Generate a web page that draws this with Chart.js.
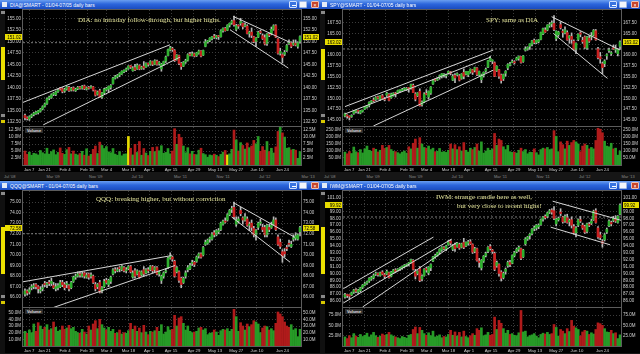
<!DOCTYPE html>
<html>
<head>
<meta charset="utf-8">
<title>DIA / SPY / QQQ / IWM daily bars</title>
<script src="https://cdn.jsdelivr.net/npm/chart.js"></script>
<style>
    html, body { margin: 0; padding: 0; background: #000; width: 640px; height: 354px; overflow: hidden;
                 font-family: "Liberation Sans", Arial, sans-serif; }
    .panel { position: absolute; width: 320px; height: 180px; background: #000; overflow: hidden; }
    .titlebar { position: absolute; left: 0; top: 0; width: 320px; height: 9px;
                background: linear-gradient(#6a9ff0, #2c66dc 45%, #1a4cc0); }
    .titlebar .ico { position: absolute; left: 2px; top: 1.5px; width: 5px; height: 5px; background: #e3ebf7; }
    .titlebar .ttl { position: absolute; left: 10px; top: 1.6px; font-size: 5px; line-height: 6px; color: #fff; white-space: nowrap; }
    .btn { position: absolute; top: 1px; width: 8px; height: 7px; border-radius: 1px; box-sizing: border-box; }
    .bmin { left: 289px; background: #3a74e0; border: 0.5px solid #cfe0ff; }
    .bmin::after { content: ""; position: absolute; left: 2px; bottom: 1.5px; width: 4px; height: 1px; background: #fff; }
    .bmax { left: 299px; background: #f4f6fb; border: 0.5px solid #9fb8e8; }
    .bcls { left: 311px; background: #c8462c; border: 0.5px solid #f0c0b0; color: #fff; font-size: 5px; line-height: 6px; text-align: center; }
    .leftbar { position: absolute; left: 0; top: 9px; width: 5px; height: 163px; background: #101010; }
    .thumb { position: absolute; left: 1px; width: 4px; background: #ece000; }
    .knob { position: absolute; left: 0.5px; width: 4px; height: 3px; background: #8a8a8a; }
    canvas { position: absolute; left: 0; }
    .voltag { position: absolute; left: 25px; top: 127.5px; height: 5px; padding: 0 2px; background: #2c2c2c;
              color: #e0e0e0; font-size: 4px; line-height: 5px; font-weight: bold; }
    .strip { position: absolute; left: 0; top: 172px; width: 320px; height: 8px; background: #161616; }
    .strip span { position: absolute; top: 1.5px; font-size: 4px; color: #8a8a8a; white-space: nowrap; }
    .note { position: absolute; font-family: "Liberation Serif", "DejaVu Serif", serif; font-size: 7px;
            line-height: 7px; color: #e6e69c; white-space: nowrap; }
</style>
</head>
<body>

<script>
    // date axis (126 daily bars, 01/04 - 07/05)
    const tickLabels = ['Jan 7', 'Jan 21', 'Feb 4', 'Feb 18', 'Mar 4', 'Mar 18', 'Apr 1', 'Apr 15', 'Apr 29', 'May 13', 'May 27', 'Jun 10', 'Jun 24'];
    const tickPos = [1.9, 8.8, 18.2, 28.2, 37.1, 47, 56.4, 66.4, 76.8, 86.4, 96, 105.4, 117];
    const stripLabels = ["Jul '08", "Mar '09", "Nov '09", "Jul '10", "Mar '11", "Nov '11", "Jul '12", "Mar '13"];

    // ---- DIA : [open, high, low, close]
    const diaBars = [
        [133.9,134.2,132.9,133.4],[133.3,133.6,132.9,133.2],[133.1,133.8,132.8,133.6],[133.7,134.2,133.4,134.0],[134.1,134.6,133.8,134.4],
        [134.3,134.8,134.1,134.6],[134.5,135.0,134.2,134.9],[134.8,135.4,134.6,135.2],[135.3,136.0,135.1,135.8],[135.9,136.6,135.7,136.4],
        [136.5,137.7,136.3,137.5],[137.6,138.1,137.3,137.9],[137.8,138.6,137.6,138.4],[138.5,138.9,138.2,138.6],[138.4,139.2,138.2,139.0],
        [139.1,139.6,138.9,139.4],[139.8,140.0,139.4,139.6],[139.7,139.9,138.8,139.1],[139.2,139.8,138.9,139.5],[139.6,140.3,139.4,140.1],
        [140.0,140.2,139.1,139.3],[139.4,140.0,139.2,139.8],[139.9,140.1,139.2,139.4],[139.3,139.8,139.1,139.6],[139.7,140.2,139.5,140.0],
        [140.1,140.2,139.6,139.8],[139.8,140.4,139.6,140.2],[140.3,140.5,139.5,139.7],[139.6,140.1,139.4,139.9],[140.0,140.2,139.6,139.8],
        [139.9,140.4,139.8,140.1],[140.1,140.2,139.2,139.4],[139.3,139.4,138.1,138.3],[138.5,139.2,138.3,139.0],[139.3,139.6,137.8,137.9],
        [137.9,138.9,137.6,138.8],[138.8,139.8,138.6,139.6],[139.5,140.0,139.3,139.8],[139.6,140.3,139.0,140.2],[140.0,140.6,139.6,140.4],
        [140.8,142.2,140.7,142.0],[142.0,142.6,141.8,142.3],[142.3,142.8,142.0,142.6],[142.7,143.2,142.3,143.0],[142.9,143.6,142.8,143.5],
        [143.4,143.8,143.2,143.7],[143.7,144.2,143.4,144.0],[144.1,144.7,143.9,144.6],[144.7,144.8,144.1,144.4],[143.6,144.5,143.5,144.2],
        [144.3,145.0,143.6,143.8],[144.0,145.1,143.9,144.8],[144.7,144.9,143.8,144.0],[144.1,144.6,143.9,144.4],[144.6,145.6,143.9,144.2],
        [144.4,145.3,144.3,145.2],[145.1,145.3,144.6,145.0],[145.0,145.8,144.8,145.6],[145.6,145.7,144.7,145.0],[145.0,146.0,144.9,145.8],
        [145.7,145.9,144.8,145.0],[145.1,145.6,144.8,145.4],[144.0,145.2,143.5,145.0],[145.0,145.7,144.7,145.6],[145.7,146.8,145.4,146.6],
        [146.9,148.3,146.8,148.2],[148.1,148.9,147.9,148.6],[148.4,148.7,147.8,148.2],[148.0,148.2,145.6,145.8],[146.0,147.1,145.9,147.0],
        [146.9,147.0,144.9,145.2],[145.2,145.4,143.9,144.5],[144.6,145.6,144.5,145.4],[145.5,146.1,145.2,145.8],[145.9,147.3,145.7,147.1],
        [147.2,147.6,146.8,147.0],[146.9,147.7,146.8,147.3],[147.3,147.4,146.6,146.8],[146.9,147.6,146.7,147.5],[147.4,148.1,147.2,147.9],
        [147.9,148.0,146.6,146.8],[147.0,148.1,146.9,148.0],[148.9,150.4,148.8,149.9],[149.9,150.2,149.6,150.1],[150.2,150.8,149.9,150.7],
        [150.6,151.1,150.3,151.0],[151.1,151.5,150.6,150.9],[150.8,151.3,150.5,151.2],[151.1,151.3,150.4,151.0],[151.0,152.5,150.9,152.3],
        [152.3,152.9,152.0,152.8],[152.8,153.0,152.2,152.3],[152.4,153.6,152.3,153.5],[153.5,154.0,153.1,153.9],[154.0,154.6,153.7,154.4],
        [154.5,155.5,153.3,153.6],[152.6,153.7,152.3,153.4],[153.4,153.6,152.8,153.3],[153.9,155.0,153.5,154.3],[153.9,154.0,152.7,153.2],
        [153.3,154.0,153.1,153.5],[153.3,153.6,151.6,151.7],[151.7,152.2,150.9,152.0],[152.0,152.9,150.8,151.3],[151.0,151.1,149.7,149.9],
        [150.0,150.8,148.9,150.7],[150.9,152.2,150.8,152.0],[152.0,152.4,151.6,151.9],[151.2,151.6,150.4,150.6],[150.8,151.4,149.2,149.4],
        [149.5,151.7,149.1,151.6],[151.4,151.8,151.0,151.3],[151.7,153.1,151.4,152.6],[152.6,153.6,152.4,153.4],[153.4,153.6,150.8,150.9],
        [150.5,150.6,147.2,147.4],[147.4,148.5,147.0,147.8],[147.1,147.3,145.3,146.5],[147.2,148.0,146.9,147.6],[148.0,149.3,147.8,149.1],
        [149.5,150.3,149.3,149.8],[149.7,149.9,148.6,148.9],[149.3,150.3,149.1,149.6],[149.6,150.3,149.0,149.2],[148.9,149.9,148.5,149.7],
        [150.0,151.2,149.6,151.02]
    ];
    const diaVol = [
        5.0, 3.8, 4.6, 3.5, 4.2, 4.0, 3.6, 5.2, 4.4, 4.0,
        6.0, 3.9, 4.8, 5.4, 3.7, 4.5, 6.1, 4.2, 3.8, 5.5,
        6.3, 4.0, 5.0, 3.9, 3.6, 4.1, 4.9, 3.5, 5.8, 3.2,
        3.8, 5.6, 6.8, 4.1, 8.2, 7.0, 5.9, 6.6, 4.7, 4.4,
        5.9, 3.9, 3.5, 4.8, 3.3, 3.9, 4.0, 10.2, 6.0, 3.6,
        7.4, 4.5, 8.4, 3.5, 5.9, 4.3, 3.4, 4.9, 6.3, 4.8,
        6.5, 5.1, 6.9, 4.2, 4.5, 5.9, 4.0, 5.0, 13.0, 7.4,
        11.0, 9.8, 6.8, 4.4, 6.2, 4.0, 4.9, 3.8, 3.7, 5.3,
        6.0, 4.1, 3.7, 2.8, 3.6, 3.4, 3.9, 3.5, 3.0, 3.8,
        4.6, 5.2, 3.6, 4.0, 5.6, 12.5, 9.0, 5.0, 8.0, 7.0,
        5.7, 7.9, 6.2, 6.8, 8.8, 7.6, 10.2, 4.9, 6.6, 5.3,
        8.4, 4.8, 6.0, 4.3, 6.5, 12.0, 13.5, 11.5, 10.0, 6.0,
        6.2, 5.4, 5.6, 5.3, 2.4, 4.8
    ];
    const diaYellow = [47, 92];
    const diaPriceTicks = [132.5, 135, 137.5, 140, 142.5, 145, 147.5, 150, 152.5, 155];
    const diaVolTicks = [2.5, 5, 7.5, 10, 12.5];
    const diaLines = [[-1.06, 136.7, 65.9, 149.24], [8.3, 131.85, 70.45, 146.56], [94.7, 155.4, 120.5, 149.75], [93.2, 152.5, 119.7, 144.17]];

    // ---- SPY
    const spyBars = [
        [145.9,146.6,145.7,146.4],[146.1,146.2,145.4,145.9],[145.7,145.9,145.0,145.6],[145.8,146.2,145.6,145.9],[146.5,147.2,146.3,147.1],
        [147.0,147.2,146.6,147.1],[147.1,147.2,146.5,147.0],[146.6,147.2,146.4,147.1],[147.0,147.3,146.8,147.0],[147.5,148.1,147.4,148.0],
        [148.0,148.4,147.7,148.3],[148.4,149.2,148.0,149.1],[149.1,149.5,148.9,149.4],[149.6,150.1,149.2,149.4],[149.7,150.4,149.5,150.2],
        [150.3,150.5,149.8,150.0],[149.8,150.6,149.5,150.6],[150.6,150.9,149.9,150.0],[149.9,150.2,149.4,149.7],[150.7,151.4,150.4,151.2],
        [150.9,151.1,149.4,149.5],[150.1,151.2,150.0,151.0],[150.6,151.3,150.5,151.2],[151.2,151.4,150.3,151.0],[151.3,151.9,151.2,151.8],
        [151.8,151.9,151.4,151.8],[151.7,152.3,151.6,152.0],[152.1,152.5,151.9,152.2],[152.0,152.5,151.8,152.3],[152.5,152.5,151.4,152.1],
        [152.3,153.3,152.1,153.2],[153.0,153.3,151.3,151.3],[151.0,151.3,149.4,149.8],[150.6,151.3,150.4,151.2],[151.6,152.2,148.2,148.3],
        [148.6,149.4,148.2,149.1],[149.2,151.3,149.0,151.0],[151.0,152.0,150.8,150.9],[150.3,151.7,149.8,151.6],[151.2,152.7,150.9,152.6],
        [153.3,154.3,153.2,154.1],[154.3,154.5,153.9,154.2],[154.2,154.8,154.1,154.5],[154.9,155.4,154.4,155.2],[155.0,155.7,154.7,155.7],
        [155.3,155.7,154.9,155.3],[155.2,155.6,154.7,155.5],[155.8,156.3,155.6,156.2],[156.1,156.2,155.4,155.8],[154.2,155.5,154.1,155.1],
        [155.3,155.7,153.6,154.7],[155.4,155.9,155.2,155.7],[155.2,155.5,154.0,154.2],[154.6,155.7,154.4,155.6],[156.0,156.8,154.5,155.1],
        [155.6,156.2,155.4,156.2],[155.4,156.2,155.0,156.2],[156.1,156.8,155.8,156.7],[156.6,156.7,155.5,156.0],[156.5,157.2,156.1,157.1],
        [157.0,157.1,155.2,155.5],[155.4,156.3,155.2,156.2],[154.3,155.6,153.6,155.4],[155.3,156.1,154.9,156.0],[156.3,157.0,156.0,156.7],
        [157.2,158.8,157.1,158.7],[158.7,159.7,158.5,159.2],[158.6,158.9,158.0,158.8],[158.2,158.4,155.0,155.1],[156.4,157.5,156.2,157.4],
        [156.6,156.7,154.6,155.1],[155.4,155.6,153.5,154.1],[154.5,155.6,154.1,155.5],[155.8,156.4,155.1,156.2],[157.0,158.0,156.6,157.8],
        [157.7,158.3,157.5,157.9],[158.3,158.9,158.2,158.5],[158.4,158.7,157.9,158.2],[158.9,159.5,158.8,159.3],[159.2,159.8,158.8,159.7],
        [159.6,159.7,158.1,158.3],[158.5,159.9,158.3,159.8],[161.1,161.9,160.9,161.4],[161.3,161.9,161.1,161.8],[162.0,162.6,161.3,162.6],
        [162.5,163.4,162.1,163.3],[163.4,163.7,162.6,162.9],[162.9,163.5,162.6,163.4],[163.1,163.6,162.8,163.5],[163.6,165.3,163.5,165.2],
        [164.9,166.2,164.7,166.1],[165.8,166.3,165.2,165.3],[165.8,167.0,165.6,166.9],[166.8,167.5,166.4,166.9],[167.2,167.9,166.5,167.2],
        [167.3,169.1,165.6,165.9],[163.8,165.6,163.3,165.5],[164.7,165.5,164.3,165.3],[167.0,167.7,166.0,166.3],[165.5,165.9,164.1,165.2],
        [165.1,166.5,164.9,165.8],[165.2,165.6,163.4,163.5],[163.9,164.5,162.7,164.4],[164.3,165.1,162.7,163.6],[163.2,163.5,161.1,161.3],
        [161.3,162.8,160.3,162.7],[163.6,164.9,163.3,164.8],[165.1,165.4,164.2,164.8],[163.4,164.1,162.7,163.1],[164.2,164.4,161.5,161.8],
        [161.6,164.3,161.3,164.2],[163.9,164.5,162.9,163.2],[164.2,165.2,163.5,164.4],[164.6,165.9,164.4,165.7],[165.6,165.9,163.4,163.5],
        [161.4,161.8,159.1,159.4],[159.6,160.6,158.1,159.1],[158.0,158.3,155.7,157.1],[158.0,158.9,157.3,158.6],[159.8,160.3,159.0,160.1],
        [161.0,161.6,160.6,161.1],[160.3,160.8,159.9,160.4],[161.6,162.3,161.3,161.4],[161.2,162.3,160.6,161.2],[160.3,161.5,159.8,161.3],
        [162.0,163.3,161.3,163.02]
    ];
    const spyVol = [
        92, 80, 96, 82, 128, 95, 88, 110, 86, 115,
        135, 105, 98, 120, 112, 93, 105, 140, 118, 125,
        140, 110, 98, 95, 88, 80, 92, 100, 85, 130,
        115, 155, 185, 120, 195, 150, 125, 120, 135, 110,
        120, 95, 98, 118, 92, 96, 90, 105, 150, 115,
        145, 110, 130, 100, 160, 105, 92, 120, 110, 125,
        150, 100, 165, 85, 100, 120, 105, 115, 225, 140,
        185, 175, 130, 110, 140, 95, 90, 92, 85, 105,
        120, 96, 110, 80, 92, 90, 115, 88, 72, 110,
        120, 115, 125, 110, 115, 245, 205, 95, 165, 145,
        115, 170, 140, 160, 175, 165, 150, 95, 135, 150,
        140, 115, 125, 115, 175, 262, 255, 230, 170, 135,
        130, 155, 115, 120, 70, 100
    ];
    const spyPriceTicks = [145, 147.5, 150, 152.5, 155, 157.5, 160, 162.5, 165, 167.5];
    const spyVolTicks = [50, 100, 150, 200, 250];
    const spyLines = [[0, 148.08, 67.4, 161.15], [0, 146.38, 65.9, 159.46], [12.9, 143.6, 67.4, 156.5], [93.9, 168.85, 125, 161.15], [94.7, 165.0, 119.3, 154.6]];

    // ---- QQQ
    const qqqBars = [
        [66.3,66.8,66.1,66.6],[66.6,66.7,66.2,66.4],[66.5,66.9,66.3,66.7],[66.9,67.2,66.7,66.9],[67.0,67.3,66.8,67.1],
        [67.2,67.3,66.8,67.0],[67.0,67.1,66.4,66.8],[66.6,67.0,66.4,66.7],[66.8,67.2,66.6,66.9],[67.3,67.5,67.0,67.2],
        [67.2,67.4,66.9,67.3],[67.4,67.6,67.1,67.3],[67.3,67.8,67.1,67.5],[67.1,67.4,66.8,66.9],[66.8,67.3,66.6,67.0],
        [66.9,67.3,66.7,67.1],[67.0,67.6,66.9,67.4],[67.4,67.6,67.0,67.2],[67.2,67.4,66.7,66.9],[67.2,67.5,66.9,67.3],
        [67.1,67.2,66.6,66.8],[66.9,67.5,66.8,67.4],[67.5,68.0,67.4,67.9],[67.9,68.2,67.7,68.0],[68.0,68.4,67.9,68.2],
        [68.2,68.4,67.9,68.1],[68.0,68.4,67.9,68.2],[68.3,68.4,67.8,68.0],[67.9,68.3,67.8,68.1],[68.2,68.3,67.7,67.9],
        [68.0,68.3,67.8,68.1],[68.0,68.1,67.3,67.4],[67.2,67.4,66.6,66.8],[67.0,67.3,66.8,67.2],[67.4,67.6,66.4,66.5],
        [66.6,67.0,66.4,66.9],[67.0,67.7,66.9,67.5],[67.6,67.8,67.3,67.4],[67.2,67.7,67.0,67.6],[67.5,68.0,67.3,67.9],
        [68.2,68.7,68.1,68.6],[68.6,68.8,68.3,68.5],[68.5,68.8,68.4,68.6],[68.8,68.9,68.4,68.7],[68.6,69.0,68.5,68.9],
        [68.8,68.9,68.4,68.5],[68.5,68.8,68.3,68.6],[68.7,69.0,68.6,68.9],[68.9,69.0,68.3,68.4],[67.9,68.5,67.8,68.3],
        [68.5,68.7,67.8,68.0],[68.2,68.6,68.1,68.5],[68.4,68.5,67.8,67.9],[68.1,68.5,68.0,68.4],[68.6,68.9,68.0,68.2],
        [68.3,68.7,68.2,68.6],[68.6,68.8,68.3,68.5],[68.6,69.0,68.5,68.9],[68.9,69.0,68.3,68.5],[68.6,68.9,68.4,68.8],
        [68.8,68.9,68.1,68.2],[68.2,68.5,68.0,68.4],[67.6,68.1,67.3,68.0],[68.0,68.4,67.8,68.3],[68.4,68.7,68.3,68.5],
        [68.8,69.8,68.7,69.7],[69.7,70.2,69.6,69.9],[69.8,69.9,69.4,69.6],[69.4,69.5,67.9,68.0],[68.4,68.9,68.3,68.8],
        [68.4,68.5,67.4,67.6],[67.8,67.9,66.9,67.2],[67.4,67.9,67.3,67.8],[68.0,68.5,67.8,68.3],[68.6,69.0,68.4,68.8],
        [68.7,69.2,68.6,69.0],[69.2,69.5,69.0,69.3],[69.3,69.4,68.9,69.1],[69.4,69.9,69.3,69.8],[69.9,70.2,69.7,70.1],
        [70.1,70.2,69.7,69.8],[70.0,70.8,69.9,70.7],[71.0,71.4,70.9,71.2],[71.1,71.5,71.0,71.4],[71.5,71.7,71.2,71.6],
        [71.5,72.1,71.4,72.0],[72.1,72.3,71.7,71.9],[71.9,72.4,71.8,72.3],[72.2,72.5,72.0,72.3],[72.4,73.1,72.3,73.0],
        [72.9,73.3,72.8,73.2],[73.2,73.5,73.0,73.1],[73.3,73.9,73.2,73.8],[73.8,74.3,73.7,74.2],[74.3,74.6,74.0,74.4],
        [74.5,75.0,73.4,73.6],[72.9,73.6,72.7,73.3],[73.2,73.6,73.0,73.4],[74.2,74.5,73.7,73.9],[73.5,73.6,72.9,73.3],
        [73.3,73.9,73.2,73.6],[73.4,73.6,72.7,72.8],[72.8,73.1,72.3,72.9],[73.0,73.3,72.3,72.6],[72.5,72.7,71.7,71.9],
        [71.9,72.4,71.4,72.3],[72.6,73.1,72.4,73.0],[73.0,73.4,72.8,73.1],[72.6,72.9,72.2,72.4],[72.6,72.8,71.7,71.9],
        [71.9,72.9,71.7,72.8],[72.6,72.9,72.2,72.4],[72.6,73.1,72.5,72.8],[72.9,73.6,72.8,73.3],[73.3,73.5,72.3,72.4],
        [71.7,71.9,70.9,71.0],[71.2,71.5,70.6,70.8],[70.3,70.5,69.3,69.9],[70.3,70.6,69.8,70.1],[70.7,70.9,70.4,70.6],
        [71.1,71.4,70.8,71.0],[70.8,71.3,70.7,71.0],[71.5,71.9,71.3,71.6],[71.6,72.1,71.4,71.8],[71.5,72.0,71.4,71.9],
        [72.2,72.7,71.8,72.58]
    ];
    const qqqVol = [
        22, 19, 24, 20, 33, 22, 35, 30, 25, 28,
        32, 24, 26, 36, 28, 22, 24, 30, 25, 27,
        31, 26, 28, 22, 20, 19, 25, 21, 18, 30,
        24, 33, 38, 26, 40, 32, 27, 24, 28, 22,
        25, 19, 20, 24, 18, 20, 19, 23, 34, 25,
        30, 22, 27, 20, 31, 21, 17, 22, 21, 23,
        28, 22, 32, 18, 21, 29, 24, 25, 46, 30,
        42, 44, 34, 24, 30, 22, 20, 21, 22, 27,
        28, 24, 26, 17, 19, 20, 24, 21, 16, 23,
        25, 24, 26, 22, 25, 55, 44, 22, 35, 30,
        24, 33, 29, 32, 38, 36, 33, 20, 27, 30,
        29, 24, 26, 23, 34, 51, 48, 44, 36, 30,
        28, 32, 24, 26, 14, 25
    ];
    const qqqPriceTicks = [66, 67, 68, 69, 70, 71, 72, 73, 74, 75];
    const qqqVolTicks = [10, 20, 30, 40, 50];
    const qqqLines = [[-1.5, 67.44, 66.7, 69.94], [12.9, 65.03, 68.2, 69.0], [94.7, 74.94, 122.7, 71.66], [93.9, 73.59, 120.5, 69.31]];

    // ---- IWM
    const iwmBars = [
        [86.6,87.1,86.4,86.9],[86.9,87.0,86.5,86.8],[86.9,86.9,86.3,86.7],[86.9,87.3,86.8,87.2],[87.3,87.7,87.1,87.6],
        [87.6,87.8,87.2,87.4],[87.3,87.7,87.1,87.6],[87.5,88.0,87.3,87.9],[88.0,88.4,87.8,88.3],[88.3,88.7,88.2,88.5],
        [88.6,88.9,88.4,88.8],[88.9,89.4,88.7,89.3],[89.2,89.6,89.0,89.4],[89.4,89.9,89.2,89.7],[89.9,90.2,89.7,90.0],
        [90.0,90.1,89.6,89.8],[89.7,90.2,89.6,90.1],[90.2,90.4,89.8,89.9],[89.8,90.0,89.3,89.6],[89.9,90.5,89.8,90.3],
        [90.1,90.2,89.3,89.4],[89.6,90.3,89.5,90.2],[90.1,90.6,90.0,90.5],[90.5,90.7,90.1,90.3],[90.4,90.7,90.3,90.6],
        [90.6,90.9,90.4,90.8],[90.8,91.1,90.6,91.0],[91.0,91.3,90.8,91.2],[91.1,91.4,91.0,91.3],[91.4,91.6,91.1,91.5],
        [91.6,92.1,91.5,92.0],[91.9,92.0,90.5,90.6],[90.3,90.6,89.2,89.6],[90.0,90.4,89.8,90.3],[90.7,91.0,88.8,89.0],
        [89.2,89.8,88.9,89.6],[89.7,90.7,89.6,90.6],[90.7,90.9,90.2,90.5],[90.1,91.0,89.8,90.9],[90.8,91.4,90.4,91.3],
        [91.8,92.5,91.7,92.4],[92.4,92.8,92.2,92.6],[92.6,93.1,92.5,93.0],[93.1,93.6,92.8,93.5],[93.4,93.9,93.2,93.8],
        [93.7,93.9,93.4,93.6],[93.5,94.1,93.3,94.0],[94.2,94.8,94.1,94.6],[94.7,94.9,94.1,94.4],[93.5,94.2,93.3,94.0],
        [94.1,94.4,93.2,93.6],[93.9,94.5,93.8,94.4],[94.2,94.4,93.5,93.7],[93.8,94.4,93.7,94.3],[94.5,95.1,93.6,93.8],
        [94.0,94.6,93.9,94.5],[94.4,94.8,94.1,94.6],[94.6,94.9,94.2,94.3],[94.2,94.3,92.9,93.1],[93.2,93.8,93.0,93.6],
        [93.6,93.7,91.8,91.9],[91.8,92.2,90.9,91.6],[90.8,92.0,90.5,91.9],[91.8,92.6,91.6,92.5],[92.6,93.1,92.4,92.9],
        [93.2,93.9,93.0,93.8],[93.9,94.2,93.4,93.6],[93.4,93.5,92.9,93.2],[92.9,93.1,90.4,90.6],[91.1,91.8,90.9,91.6],
        [91.3,91.4,89.6,90.0],[90.2,90.4,88.9,89.3],[89.4,90.2,89.2,90.0],[90.3,90.8,89.9,90.6],[91.1,91.8,90.9,91.6],
        [91.6,91.9,91.0,91.3],[91.5,92.7,91.4,92.6],[92.6,93.2,92.4,93.0],[93.2,93.7,93.0,93.5],[93.5,94.0,93.2,93.8],
        [93.6,93.7,92.0,92.2],[92.4,93.5,92.3,93.4],[94.3,95.2,94.1,95.0],[95.0,95.4,94.8,95.3],[95.5,95.8,95.0,95.7],
        [95.8,96.5,95.6,96.4],[96.5,96.9,96.2,96.6],[96.6,97.1,96.3,97.0],[96.8,97.2,96.5,97.0],[97.1,97.9,97.0,97.8],
        [97.9,98.3,97.6,98.2],[98.3,98.5,97.9,98.1],[98.3,98.9,98.1,98.8],[98.9,99.3,98.7,99.1],[99.2,99.4,98.6,98.9],
        [99.1,99.7,97.8,98.0],[97.2,98.0,96.9,97.9],[97.8,98.2,97.6,98.0],[98.9,99.4,98.4,98.7],[98.2,98.3,97.3,97.5],
        [97.6,98.5,97.4,98.3],[98.1,98.6,97.3,97.4],[97.5,97.9,96.9,97.7],[97.8,98.2,96.6,97.0],[96.8,97.1,95.7,95.9],
        [95.9,96.8,95.3,96.6],[97.0,97.9,96.8,97.8],[97.8,98.3,97.4,97.6],[97.0,97.3,96.4,96.6],[96.8,97.0,95.8,96.0],
        [96.1,97.3,95.9,97.2],[97.1,97.4,96.8,97.0],[97.3,97.9,97.1,97.6],[97.8,99.2,97.7,99.0],[99.1,99.4,97.3,97.4],
        [96.6,96.8,95.1,95.3],[95.6,96.0,94.9,95.2],[94.6,94.9,93.8,94.4],[94.9,95.8,94.7,95.6],[96.0,96.6,95.8,96.4],
        [96.9,97.8,96.8,97.6],[97.4,97.6,96.9,97.2],[97.7,98.3,97.5,98.0],[97.9,98.4,97.4,97.6],[97.4,98.4,97.3,98.3],
        [98.6,100.1,98.5,99.92]
    ];
    const iwmVol = [
        22, 18, 25, 20, 30, 24, 21, 28, 23, 26,
        31, 22, 27, 33, 25, 21, 24, 29, 26, 28,
        33, 27, 24, 22, 20, 18, 23, 21, 19, 26,
        28, 40, 46, 30, 45, 38, 30, 26, 32, 25,
        36, 22, 24, 27, 20, 23, 22, 28, 38, 26,
        34, 24, 33, 22, 36, 23, 20, 25, 30, 26,
        42, 38, 44, 25, 27, 33, 26, 28, 70, 40,
        62, 55, 42, 31, 38, 28, 30, 26, 25, 32,
        86, 34, 36, 22, 25, 27, 30, 24, 20, 28,
        31, 29, 33, 28, 30, 52, 45, 24, 40, 36,
        30, 42, 35, 62, 48, 44, 40, 24, 34, 38,
        36, 28, 32, 29, 40, 56, 54, 50, 42, 34,
        33, 38, 30, 32, 18, 27
    ];
    const iwmPriceTicks = [86, 87, 88, 89, 90, 91, 92, 93, 94, 95, 96, 97, 98, 99, 100, 101];
    const iwmVolTicks = [25, 50, 75];
    const iwmLines = [[-0.76, 87.79, 40.2, 95.28], [-0.76, 85.71, 48.5, 94.99], [8.0, 85.13, 50.8, 94.5], [94.4, 100.49, 125.8, 97.69], [93.5, 96.72, 120.5, 94.16]];

    // dashed reference levels drawn across each price pane
    const refLevels = [149.7, 161.4, 72.0, 98.2];

    const UP = '#2fb12f', DOWN = '#c92020', WICK = '#b8b8b8', YEL = '#e8dc00';
    const VOL_UP = '#279b27', VOL_DOWN = '#b01b1b';
    const X_MIN = -0.9, X_MAX = 125.45;

    const panels = [
        { sym: 'DIA', left: 0, top: 0, bars: diaBars, vol: diaVol, yellow: diaYellow, pTicks: diaPriceTicks, vTicks: diaVolTicks,
          pMin: 131.6, pMax: 156.8, vMax: 13.6, lines: diaLines, ref: refLevels[0], thumb: [38, 33],
          notes: [['DIA: no intraday follow-through, but higher highs.', 78, 16.5]] },
        { sym: 'SPY', left: 320, top: 0, bars: spyBars, vol: spyVol, yellow: [], pTicks: spyPriceTicks, vTicks: spyVolTicks,
          pMin: 143.6, pMax: 170.4, vMax: 271, lines: spyLines, ref: refLevels[1], thumb: [40, 31],
          notes: [['SPY: same as DIA', 166, 16.5]] },
        { sym: 'QQQ', left: 0, top: 181, bars: qqqBars, vol: qqqVol, yellow: [], pTicks: qqqPriceTicks, vTicks: qqqVolTicks,
          pMin: 65.08, pMax: 76.04, vMax: 57, lines: qqqLines, ref: refLevels[2], thumb: [37, 47],
          notes: [['QQQ: breaking higher, but without conviction', 96, 15.2]] },
        { sym: 'IWM', left: 320, top: 181, bars: iwmBars, vol: iwmVol, yellow: [], pTicks: iwmPriceTicks, vTicks: iwmVolTicks,
          pMin: 85.13, pMax: 101.97, vMax: 92, lines: iwmLines, ref: refLevels[3], thumb: [37, 47],
          notes: [['IWM: strange candle here as well,', 116, 13.2], ['but very close to recent highs!', 137, 21.8]] }
    ];

    Chart.defaults.font.family = '"Liberation Sans", Arial, sans-serif';
    Chart.defaults.color = '#d2d2d2';

    // frame around the plot area
    const framePlugin = {
        id: 'frame',
        afterDraw(chart) {
            const a = chart.chartArea, ctx = chart.ctx;
            ctx.save();
            ctx.strokeStyle = '#5c5c5c';
            ctx.lineWidth = 1;
            ctx.strokeRect(Math.round(a.left) - 0.5, Math.round(a.top) - 0.5, Math.round(a.right - a.left) + 1, Math.round(a.bottom - a.top) + 1);
            ctx.restore();
        }
    };

    // yellow last-price tag on both price axes
    const lastPricePlugin = {
        id: 'lastPrice',
        afterDraw(chart, args, opts) {
            if (!opts || opts.value == null) return;
            const ctx = chart.ctx, a = chart.chartArea;
            const y = Math.round(chart.scales.y.getPixelForValue(opts.value));
            const txt = opts.value.toFixed(2);
            ctx.save();
            ctx.font = '4.5px "Liberation Sans"';
            ctx.textBaseline = 'middle';
            ctx.fillStyle = YEL;
            ctx.fillRect(a.right + 2, y - 3, 16, 6);
            ctx.fillRect(5, y - 3, 17, 6);
            ctx.fillStyle = '#000';
            ctx.textAlign = 'left';
            ctx.fillText(txt, a.right + 3, y + 0.3);
            ctx.textAlign = 'right';
            ctx.fillText(txt, a.left - 2, y + 0.3);
            ctx.restore();
        }
    };

    function fixWidth(w) {
        return s => { s.width = w; s.paddingTop = 0; s.paddingBottom = 0; s.paddingLeft = 0; s.paddingRight = 0; };
    }
    function fixHeight(h) {
        return s => { s.height = h; s.paddingTop = 0; s.paddingBottom = 0; s.paddingLeft = 0; s.paddingRight = 0; };
    }

    function yAxes(ticks, min, max, fmt) {
        const base = {
            type: 'linear', min: min, max: max, beginAtZero: false,
            afterBuildTicks: s => { s.ticks = ticks.map(v => ({ value: v })); },
            ticks: { callback: fmt, font: { size: 4.5 }, color: '#d0d0d0', padding: 2, autoSkip: false },
            border: { display: false, dash: [1, 2] }
        };
        return {
            y: Object.assign({}, base, { position: 'left', afterFit: fixWidth(23),
                grid: { color: '#3c3c3c', drawTicks: false } }),
            y2: Object.assign({}, base, { position: 'right', afterFit: fixWidth(19),
                grid: { drawOnChartArea: false, drawTicks: false } })
        };
    }

    function xAxis(showLabels, h) {
        return {
            type: 'linear', min: X_MIN, max: X_MAX, offset: false,
            afterBuildTicks: s => { s.ticks = tickPos.map(v => ({ value: v })); },
            afterFit: fixHeight(h),
            ticks: { display: showLabels, callback: (v, i) => tickLabels[i], font: { size: 4.3 }, color: '#cfcfcf',
                     padding: 2, autoSkip: false, maxRotation: 0 },
            grid: { color: '#3c3c3c', drawTicks: false, offset: false },
            border: { display: false, dash: [1, 2] }
        };
    }

    function priceChart(canvas, p) {
        const bodyColors = p.bars.map(b => b[3] >= b[0] ? UP : DOWN);
        const datasets = [];
        p.lines.forEach(l => datasets.push({
            type: 'line', data: [{ x: l[0], y: l[1] }, { x: l[2], y: l[3] }],
            borderColor: '#d6d6d6', borderWidth: 1, pointRadius: 0, order: 0
        }));
        datasets.push({
            type: 'line', data: [{ x: X_MIN, y: p.ref }, { x: X_MAX, y: p.ref }],
            borderColor: '#9a9a9a', borderWidth: 0.8, borderDash: [2, 2], pointRadius: 0, order: 1
        });
        datasets.push({
            type: 'bar', data: p.bars.map((b, i) => ({ x: i, y: [b[2], b[1]] })),
            backgroundColor: WICK, barThickness: 1, grouped: false, order: 3
        });
        datasets.push({
            type: 'bar', data: p.bars.map((b, i) => ({ x: i, y: [b[0], b[3]] })),
            backgroundColor: bodyColors, barThickness: 2, grouped: false, minBarLength: 1, order: 2
        });
        const scales = Object.assign({ x: xAxis(false, 0) }, yAxes(p.pTicks, p.pMin, p.pMax, v => v.toFixed(2)));
        return new Chart(canvas, {
            type: 'bar',
            data: { datasets },
            options: {
                responsive: false, maintainAspectRatio: false, animation: false,
                layout: { padding: { top: 1, bottom: 1, left: 0, right: 0 } },
                plugins: { legend: { display: false }, tooltip: { enabled: false },
                           lastPrice: { value: p.bars[p.bars.length - 1][3] } },
                scales
            },
            plugins: [framePlugin, lastPricePlugin]
        });
    }

    function volumeChart(canvas, p) {
        const colors = p.bars.map((b, i) => p.yellow.includes(i) ? YEL : (b[3] >= b[0] ? VOL_UP : VOL_DOWN));
        const scales = Object.assign({ x: xAxis(true, 7) }, yAxes(p.vTicks, 0, p.vMax, v => v.toFixed(1) + 'M'));
        return new Chart(canvas, {
            type: 'bar',
            data: { datasets: [{ data: p.vol.map((v, i) => ({ x: i, y: v })), backgroundColor: colors,
                                 barThickness: 2, grouped: false }] },
            options: {
                responsive: false, maintainAspectRatio: false, animation: false,
                layout: { padding: { top: 1, bottom: 0, left: 0, right: 0 } },
                plugins: { legend: { display: false }, tooltip: { enabled: false } },
                scales
            },
            plugins: [framePlugin]
        });
    }

    panels.forEach(p => {
        const div = document.createElement('div');
        div.className = 'panel';
        div.style.left = p.left + 'px';
        div.style.top = p.top + 'px';
        div.innerHTML = `
            <div class="titlebar"><div class="ico"></div>
              <div class="ttl">${p.sym}@SMART - 01/04-07/05 daily bars</div>
              <div class="btn bmin"></div><div class="btn bmax"></div><div class="btn bcls">×</div></div>
            <div class="leftbar">
              <div class="knob" style="top:2px"></div>
              <div class="thumb" style="top:${p.thumb[0]}px;height:${p.thumb[1]}px"></div>
              <div class="knob" style="top:105px"></div>
              <div class="knob" style="top:111px;background:#d8c800"></div>
            </div>
            <canvas class="pc" width="320" height="118" style="top:9px"></canvas>
            <canvas class="vc" width="320" height="46" style="top:126px"></canvas>
            <div class="voltag">Volume</div>
            <div class="strip">${stripLabels.map((s, i) => `<span style="left:${4 + i * 42.5}px">${s}</span>`).join('')}</div>
        `;
        p.notes.forEach(n => {
            const t = document.createElement('div');
            t.className = 'note';
            t.textContent = n[0];
            t.style.left = n[1] + 'px';
            t.style.top = n[2] + 'px';
            div.appendChild(t);
        });
        document.body.appendChild(div);
        priceChart(div.querySelector('.pc'), p);
        volumeChart(div.querySelector('.vc'), p);
    });
</script>

</body>
</html>
